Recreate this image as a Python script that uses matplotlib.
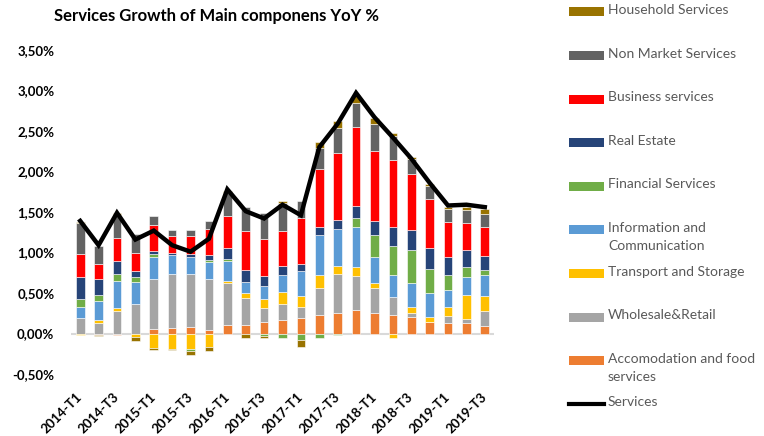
import numpy as np
import matplotlib
matplotlib.use('Agg')
import matplotlib.pyplot as plt
from matplotlib.patches import Rectangle
from matplotlib.lines import Line2D

# Quarters 2014-T1 .. 2019-T3
quarters = [f'{y}-T{q}' for y in range(2014, 2020) for q in range(1, 5)][:23]

# contributions in percentage points, stacking order bottom -> top
accomodation = [0.0, -0.02, -0.02, -0.01, 0.058, 0.074, 0.078, 0.046, 0.107, 0.11, 0.143, 0.165,
                0.193, 0.227, 0.248, 0.289, 0.248, 0.227, 0.198, 0.144, 0.131, 0.131, 0.094]
wholesale = [0.186, 0.131, 0.276, 0.36, 0.61, 0.657, 0.653, 0.623, 0.52, 0.326, 0.166, 0.195,
             0.136, 0.331, 0.487, 0.425, 0.31, 0.219, 0.05, 0.0, 0.083, 0.046, 0.186]
transport = [-0.02, 0.033, 0.033, -0.03, -0.178, -0.186, -0.19, -0.165, 0.021, 0.067, 0.115, 0.149,
             0.133, 0.165, 0.099, 0.104, 0.062, -0.054, 0.082, 0.055, 0.115, 0.297, 0.182]
info_comm = [0.144, 0.235, 0.342, 0.28, 0.276, 0.235, 0.214, 0.214, 0.243, 0.131, 0.165, 0.214,
             0.31, 0.496, 0.458, 0.491, 0.33, 0.276, 0.29, 0.297, 0.207, 0.227, 0.256]
financial = [0.095, 0.074, 0.083, 0.055, 0.033, 0.0, -0.02, 0.02, 0.03, 0.0, -0.03, -0.05,
             -0.083, -0.054, -0.02, 0.116, 0.26, 0.359, 0.413, 0.301, 0.186, 0.116, 0.066]
real_estate = [0.276, 0.198, 0.165, 0.074, 0.041, 0.033, 0.042, 0.07, 0.131, 0.145, 0.124, 0.112,
               0.083, 0.095, 0.112, 0.144, 0.182, 0.232, 0.239, 0.256, 0.219, 0.214, 0.177]
business = [0.281, 0.182, 0.278, 0.23, 0.318, 0.206, 0.218, 0.313, 0.393, 0.487, 0.451, 0.425,
            0.57, 0.719, 0.826, 0.979, 0.867, 0.834, 0.699, 0.607, 0.434, 0.338, 0.352]
non_market = [0.38, 0.23, 0.28, 0.228, 0.115, 0.07, 0.07, 0.1, 0.289, 0.297, 0.322, 0.352,
              0.206, 0.26, 0.31, 0.302, 0.322, 0.297, 0.186, 0.165, 0.161, 0.157, 0.161]
household = [0.02, -0.017, 0.03, -0.05, -0.025, -0.02, -0.058, -0.054, 0.025, -0.05, -0.03, 0.02,
             -0.083, 0.07, 0.082, 0.09, 0.083, 0.033, 0.025, 0.025, 0.025, 0.033, 0.062]

services = [1.39, 1.09, 1.49, 1.16, 1.27, 1.09, 1.01, 1.17, 1.78, 1.51, 1.42, 1.59,
            1.46, 2.30, 2.59, 2.97, 2.67, 2.42, 2.16, 1.86, 1.58, 1.59, 1.56]

series = [
    ('Accomodation and food\nservices', accomodation, '#ED7D31'),
    ('Wholesale&Retail', wholesale, '#A5A5A5'),
    ('Transport and Storage', transport, '#FFC000'),
    ('Information and\nCommunication', info_comm, '#5B9BD5'),
    ('Financial Services', financial, '#70AD47'),
    ('Real Estate', real_estate, '#264478'),
    ('Business services', business, '#FF0000'),
    ('Non Market Services', non_market, '#636363'),
    ('Household Services', household, '#997300'),
]

font = 'Lato'

fig = plt.figure(figsize=(7.64, 4.36), dpi=100)
ax = fig.add_axes([71 / 764, 1 - 374 / 436, (494 - 71) / 764, 324 / 436])

x = np.arange(len(quarters))
pos_base = np.zeros(len(x))
neg_base = np.zeros(len(x))
for name, vals, col in series:
    v = np.array(vals)
    base = np.where(v >= 0, pos_base, neg_base)
    ax.bar(x, v, width=0.47, bottom=base, color=col, edgecolor='white', linewidth=0.4, zorder=2)
    pos_base += np.where(v >= 0, v, 0)
    neg_base += np.where(v < 0, v, 0)

ax.plot(x, services, color='black', linewidth=3.2, zorder=4, solid_joinstyle='miter')
ax.axhline(0, color='#D9D9D9', linewidth=1.5, zorder=1)

ax.set_xlim(-0.5, len(x) - 0.5)
ax.set_ylim(-0.5, 3.5)
yt = np.arange(-0.5, 3.51, 0.5)
ax.set_yticks(yt)
ax.set_yticklabels([f'{t:.2f}%'.replace('.', ',') for t in yt], fontfamily=font,
                   fontweight='bold', fontsize=9.5)
ax.set_xticks(x[::2])
ax.set_xticklabels(quarters[::2], rotation=45, ha='right', va='center', rotation_mode='anchor',
                   fontfamily=font, fontweight='bold', fontsize=9.5)
ax.tick_params(axis='both', length=0)
ax.tick_params(axis='x', pad=15)
ax.tick_params(axis='y', pad=12)
for s in ax.spines.values():
    s.set_visible(False)

fig.text(217 / 764, 1 - 16 / 436, 'Services Growth of Main componens YoY %', ha='center', va='center',
         fontfamily=font, fontweight='bold', fontsize=12)

# legend on the right, top entry = last series
entries = [(n, c) for n, v, c in series][::-1]
step = 43.6
for i, (name, col) in enumerate(entries):
    yc = 12 + i * step
    fig.add_artist(Rectangle((569 / 764, 1 - (yc + 4.5) / 436), 35 / 764, 9 / 436,
                             transform=fig.transFigure, facecolor=col, edgecolor='none'))
    fig.text(608 / 764, 1 - (yc - 8) / 436, name, ha='left', va='top', fontfamily=font,
             fontsize=10, color='#595959', linespacing=1.6)
yc = 12 + len(entries) * step
fig.add_artist(Line2D([569 / 764, 604 / 764], [1 - yc / 436, 1 - yc / 436],
                      transform=fig.transFigure, color='black', linewidth=3))
fig.text(608 / 764, 1 - (yc - 8) / 436, 'Services', ha='left', va='top', fontfamily=font,
         fontsize=10, color='#595959')

fig.savefig('out.png', dpi=100)
